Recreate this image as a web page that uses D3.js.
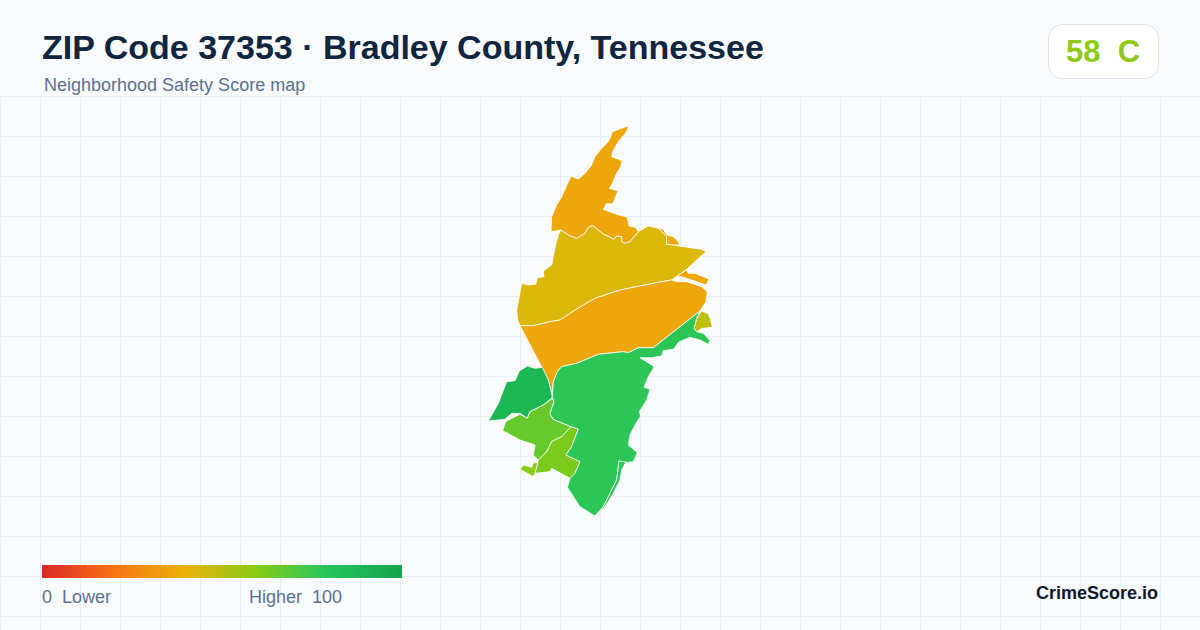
<!DOCTYPE html>
<html lang="en">
<head>
  <meta charset="UTF-8">
  <title>ZIP Code 37353 Safety Score map</title>
  <script src="https://d3js.org/d3.v7.min.js"></script>
  <style>
    html, body { margin: 0; padding: 0; background: #f8fafc; }
    svg { display: block; font-family: "Liberation Sans", Arial, sans-serif; }
    text { white-space: pre; }
    .region { stroke: #fff; stroke-width: 0.8; stroke-linejoin: round; }
    .grid { stroke: #e6eff3; stroke-width: 1; }
  </style>
</head>
<body>
  <svg width="1200" height="630"></svg>
  <script>
    const titleText = "ZIP Code 37353 · Bradley County, Tennessee";
    const subtitleText = "Neighborhood Safety Score map";
    const badgeText = "58  C";
    const badgeScore = 58;
    const brandText = "CrimeScore.io";
    const legendLow = "0  Lower";
    const legendHigh = "Higher  100";

    // score ramp used by the map and the legend
    const rampStops = [0, 20, 40, 60, 80, 100];
    const rampColors = ["#dc2626", "#f97316", "#eab308", "#84cc16", "#22c55e", "#16a34a"];

    // one score per region, same order as regionRings
    const regionScores = [36, 43, 36, 36, 36, 49, 88, 66, 62, 59, 78, 78];

    // outlines, in map units
    const northRing = [[475,47],[472,60],[462,75],[445,95],[428,125],[425,140],[457,152],[450,175],[440,190],[425,225],[418,235],[444,243],[435,265],[428,282],[410,280],[400,298],[440,313],[472,322],[477,348],[497,352],[505,365],[480,395],[465,400],[455,395],[455,380],[440,378],[432,388],[400,372],[368,347],[355,352],[345,370],[320,385],[300,378],[272,360],[243,365],[245,320],[260,285],[275,260],[303,198],[325,207],[345,190],[365,165],[375,140],[395,115],[415,95],[428,65]];
    const yellowRing = [[272,360],[300,378],[320,385],[345,370],[355,352],[368,347],[400,372],[432,388],[440,378],[455,380],[455,395],[465,400],[480,395],[505,365],[535,348],[565,355],[590,380],[590,402],[610,405],[640,410],[695,418],[708,425],[680,450],[650,478],[605,510],[570,516],[450,540],[375,565],[340,585],[300,610],[270,630],[240,635],[190,647],[150,647],[143,630],[140,600],[155,520],[175,525],[198,522],[202,503],[222,500],[220,483],[245,465],[258,400],[265,375]];
    const centerRing = [[605,510],[620,515],[650,515],[695,530],[712,545],[708,575],[690,603],[550,713],[505,713],[475,728],[460,725],[385,733],[320,760],[275,770],[262,785],[250,815],[245,850],[235,810],[215,770],[150,647],[190,647],[240,635],[270,630],[300,610],[340,585],[375,565],[450,540],[570,516]];
    const sliverRing = [[565,355],[580,358],[590,375],[610,380],[625,395],[628,405],[610,405],[590,402],[590,380]];
    const eastBitRing = [[622,497],[650,480],[655,490],[675,490],[717,507],[708,525],[650,505]];
    const limeRing = [[695,603],[715,612],[722,630],[727,652],[695,655],[680,665],[672,655],[680,625]];
    const darkRing = [[55,933],[85,880],[110,815],[135,812],[148,783],[172,768],[195,775],[217,772],[235,810],[245,850],[247,862],[220,885],[180,905],[172,925],[150,910],[125,910],[105,928]];
    const westRing = [[98,962],[107,935],[125,925],[150,913],[172,925],[180,905],[220,885],[247,865],[252,875],[240,912],[250,928],[303,950],[275,980],[245,995],[230,1025],[205,1050],[190,1035],[195,1005],[150,990]];
    const southRing = [[303,950],[325,957],[305,1010],[288,1035],[330,1055],[315,1090],[300,1105],[245,1075],[240,1085],[195,1090],[205,1050],[230,1025],[245,995],[275,980]];
    const tipRing = [[150,1078],[160,1065],[185,1072],[190,1058],[203,1058],[195,1090],[190,1100]];
    const mainRing = [[690,603],[680,625],[672,655],[680,665],[700,670],[720,692],[715,703],[690,690],[660,682],[625,697],[612,717],[580,722],[575,738],[545,743],[510,743],[553,770],[535,800],[522,832],[540,838],[530,870],[508,905],[512,918],[495,945],[480,975],[475,1005],[502,1028],[490,1055],[470,1058],[447,1053],[440,1110],[400,1190],[375,1218],[330,1190],[292,1132],[300,1105],[315,1090],[330,1055],[288,1035],[305,1010],[325,957],[303,950],[250,928],[240,912],[252,875],[247,862],[250,815],[262,785],[275,770],[320,760],[385,733],[460,725],[475,728],[505,713],[550,713]];
    const stripRing = [[375,1218],[400,1190],[440,1110],[447,1053],[468,1056],[455,1080],[450,1110],[430,1150],[405,1190]];

    const regionRings = [northRing, yellowRing, centerRing, sliverRing, eastBitRing, limeRing, darkRing, westRing, southRing, tipRing, mainRing, stripRing];

    const svg = d3.select("svg");
    const width = 1200, height = 630;

    const colorScale = d3.scaleLinear().domain(rampStops).range(rampColors).interpolate(d3.interpolateRgb);
    const mapX = d3.scaleLinear().domain([0, 780]).range([470, 730]);
    const mapY = d3.scaleLinear().domain([0, 630]).range([110, 320]);
    const legendX = d3.scaleLinear().domain([0, 100]).range([42, 402]);

    // background grid
    svg.append("rect").attr("width", width).attr("height", height).attr("fill", "#f8fafc");
    const gridTop = 96.5;
    for (let x = 0.5; x < width; x += 40) {
      svg.append("line").attr("class", "grid").attr("x1", x).attr("x2", x).attr("y1", gridTop).attr("y2", height);
    }
    for (let y = gridTop; y < height; y += 40) {
      svg.append("line").attr("class", "grid").attr("x1", 0).attr("x2", width).attr("y1", y).attr("y2", y);
    }

    // header
    svg.append("text").attr("x", 42).attr("y", 59)
      .attr("font-size", 34).attr("font-weight", 700).attr("fill", "#0f2540")
      .text(titleText);
    svg.append("text").attr("x", 44).attr("y", 91)
      .attr("font-size", 18).attr("fill", "#5b7190")
      .text(subtitleText);

    // score badge
    svg.append("rect").attr("x", 1048.5).attr("y", 24.5).attr("width", 110).attr("height", 54).attr("rx", 14)
      .attr("fill", "#fff").attr("stroke", "#dde3ed");
    svg.append("text").attr("x", 1103).attr("y", 62).attr("text-anchor", "middle")
      .attr("font-size", 31).attr("font-weight", 700).attr("fill", colorScale(badgeScore))
      .text(badgeText);

    // regions
    const ringPath = d3.line().x(d => mapX(d[0])).y(d => mapY(d[1])).curve(d3.curveLinearClosed);
    svg.selectAll("path.region")
      .data(regionRings)
      .join("path")
      .attr("class", "region")
      .attr("d", ringPath)
      .attr("fill", (d, i) => colorScale(regionScores[i]));

    // legend
    const grad = svg.append("defs").append("linearGradient").attr("id", "ramp");
    grad.selectAll("stop").data(rampStops).join("stop")
      .attr("offset", d => d + "%")
      .attr("stop-color", d => colorScale(d));
    svg.append("rect").attr("x", legendX(0)).attr("y", 565)
      .attr("width", legendX(100) - legendX(0)).attr("height", 13)
      .attr("fill", "url(#ramp)");
    svg.append("text").attr("x", 42).attr("y", 603).attr("font-size", 18).attr("fill", "#5b7190").text(legendLow);
    svg.append("text").attr("x", 249).attr("y", 603).attr("font-size", 18).attr("fill", "#5b7190").text(legendHigh);

    svg.append("text").attr("x", 1158).attr("y", 599).attr("text-anchor", "end")
      .attr("font-size", 18).attr("font-weight", 700).attr("fill", "#0f172a")
      .text(brandText);
  </script>
</body>
</html>
